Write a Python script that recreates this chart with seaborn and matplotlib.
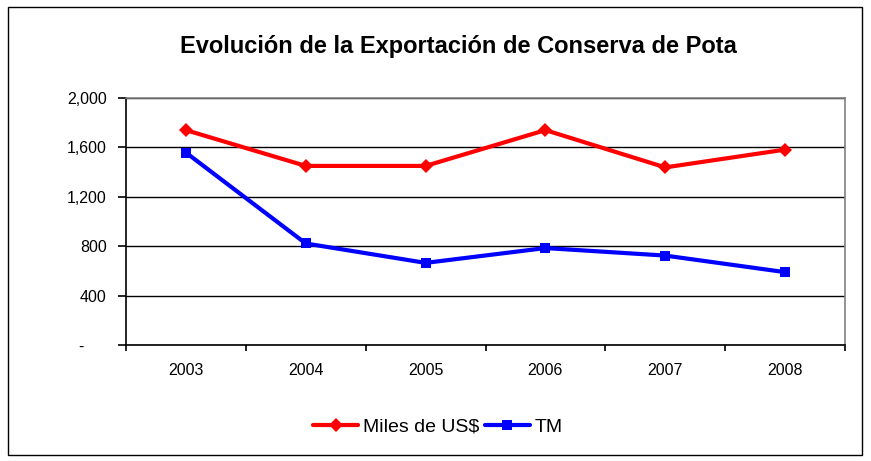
import pandas as pd
import matplotlib
matplotlib.use("Agg")
import matplotlib.pyplot as plt
from matplotlib.ticker import FuncFormatter, FixedLocator
from matplotlib.patches import Rectangle
import seaborn as sns

# datos
anios = ['2003', '2004', '2005', '2006', '2007', '2008']
miles_usd = [1740, 1450, 1450, 1740, 1438, 1582]
tm = [1558, 822, 665, 785, 724, 590]

series = ['Miles de US$', 'TM']
colores = {'Miles de US$': '#ff0000', 'TM': '#0000ff'}
marcadores = {'Miles de US$': 'D', 'TM': 's'}

df = pd.DataFrame({
    'pos': list(range(len(anios))) * 2,
    'valor': miles_usd + tm,
    'serie': [series[0]] * len(anios) + [series[1]] * len(anios),
})

sns.set_style("white")
plt.rcParams['font.family'] = ['Liberation Sans', 'DejaVu Sans']
plt.rcParams['text.color'] = 'black'
plt.rcParams['xtick.color'] = 'black'
plt.rcParams['ytick.color'] = 'black'

fig = plt.figure(figsize=(8.71, 4.61), dpi=100)
ax = fig.add_axes([126 / 871, 1 - 345 / 461, 719 / 871, 247 / 461])

sns.lineplot(
    data=df, x='pos', y='valor', hue='serie', style='serie',
    palette=colores, markers=marcadores, dashes=False,
    linewidth=3, markersize=7.5, markeredgewidth=0, ax=ax
)

ax.set_xlim(-0.5, len(anios) - 0.5)
ax.set_ylim(0, 2000)
ax.set_yticks(range(0, 2001, 400))
ax.yaxis.set_major_formatter(
    FuncFormatter(lambda v, p: '-' + ' ' * 5 if v == 0 else f'{int(v):,}'))
ax.yaxis.grid(True, color='black', linewidth=1)
ax.set_axisbelow(True)

# ticks en los limites de categoria, etiquetas en el centro
ax.xaxis.set_major_locator(FixedLocator([i - 0.5 for i in range(len(anios) + 1)]))
ax.xaxis.set_major_formatter(FuncFormatter(lambda v, p: ''))
ax.xaxis.set_minor_locator(FixedLocator(range(len(anios))))
ax.set_xticklabels(anios, minor=True)
ax.tick_params(axis='x', which='major', direction='out', length=4, width=1.2, color='black', bottom=True)
ax.tick_params(axis='x', which='minor', length=0, pad=13, labelsize=11.5)
ax.tick_params(axis='y', direction='out', length=6, width=1.2, color='black', left=True, labelsize=11.5, pad=8)

ax.set_xlabel('')
ax.set_ylabel('')

for lado in ['left', 'bottom']:
    ax.spines[lado].set_color('black')
    ax.spines[lado].set_linewidth(1.2)
for lado in ['top', 'right']:
    ax.spines[lado].set_color('#808080')
    ax.spines[lado].set_linewidth(1.2)

ax.legend_.remove()
handles, labels = ax.get_legend_handles_labels()
fig.legend(handles, labels, loc='center', bbox_to_anchor=(438 / 871, 1 - 427 / 461),
           ncol=2, frameon=False, fontsize=14, handlelength=2.3,
           handletextpad=0.25, columnspacing=0.3)

fig.text(458 / 871, 1 - 46 / 461, 'Evolución de la Exportación de Conserva de Pota',
         ha='center', va='center', fontsize=17, fontweight='bold')

fig.patches.append(Rectangle((8 / 871, 6 / 461), 854 / 871, 448 / 461,
                             transform=fig.transFigure, fill=False,
                             edgecolor='black', linewidth=1))

fig.savefig('out.png', dpi=100)
